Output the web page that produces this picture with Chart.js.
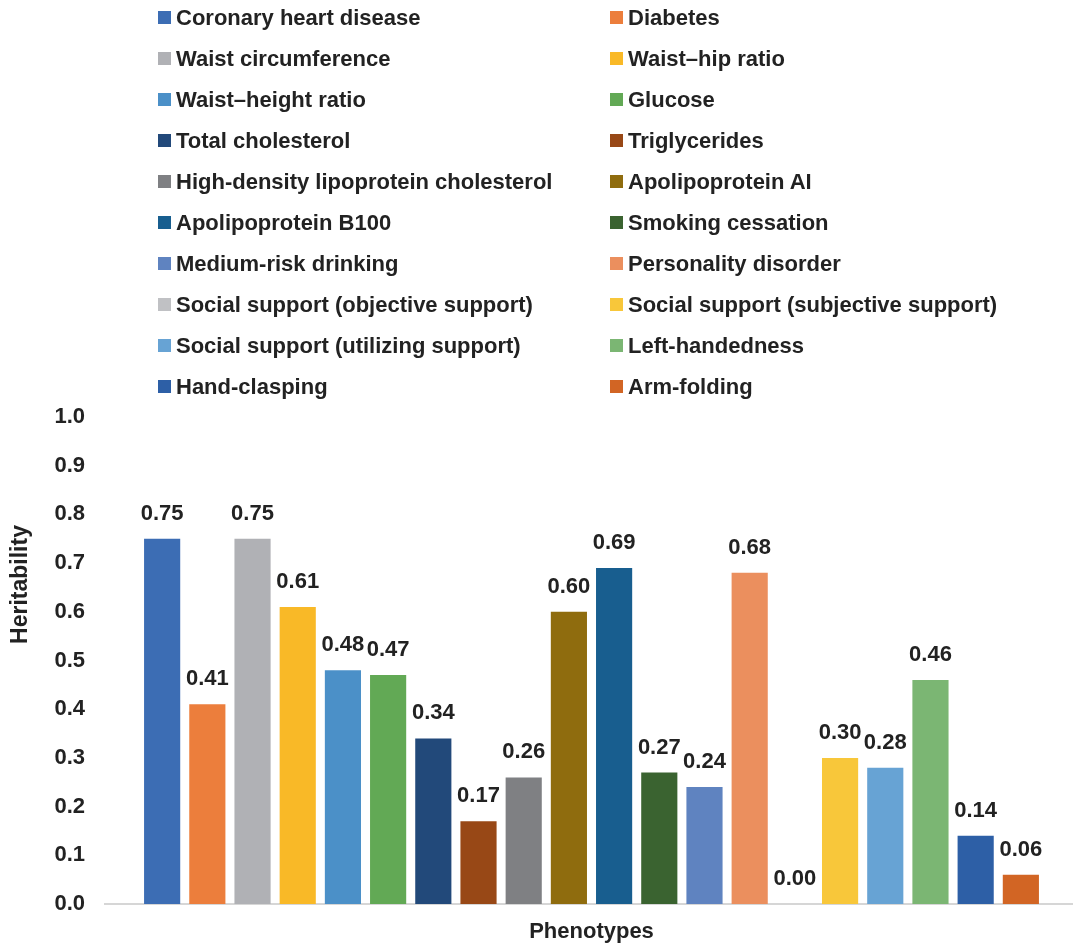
<!DOCTYPE html>
<html>
<head>
<meta charset="utf-8">
<title>Heritability of phenotypes</title>
<script src="https://cdn.jsdelivr.net/npm/chart.js@4/dist/chart.umd.min.js"></script>
<style>
  html, body { margin: 0; padding: 0; background: #ffffff; }
  #wrap { position: relative; width: 1073px; height: 947px; overflow: hidden; }
  #chart { position: absolute; left: 0; top: 0; }
  #legend { position: absolute; left: 0; top: 0; width: 1073px; height: 400px; }
  .item {
    position: absolute; display: flex; align-items: center; height: 41px;
    font: bold 22px "Liberation Sans", Arial, Helvetica, sans-serif; color: #222222;
    white-space: nowrap;
  }
  .item .sw { width: 13px; height: 13px; margin-right: 5px; flex: none; }
</style>
</head>
<body>
<div id="wrap">
  <canvas id="chart" width="1073" height="947"></canvas>
  <div id="legend"></div>
</div>
<script>
// Phenotypes and their estimated heritability
const phenotypes = [
  'Coronary heart disease', 'Diabetes',
  'Waist circumference', 'Waist\u2013hip ratio',
  'Waist\u2013height ratio', 'Glucose',
  'Total cholesterol', 'Triglycerides',
  'High-density lipoprotein cholesterol', 'Apolipoprotein AI',
  'Apolipoprotein B100', 'Smoking cessation',
  'Medium-risk drinking', 'Personality disorder',
  'Social support (objective support)', 'Social support (subjective support)',
  'Social support (utilizing support)', 'Left-handedness',
  'Hand-clasping', 'Arm-folding'
];
const heritability = [
  0.75, 0.41, 0.75, 0.61, 0.48, 0.47, 0.34, 0.17, 0.26, 0.60,
  0.69, 0.27, 0.24, 0.68, 0.00, 0.30, 0.28, 0.46, 0.14, 0.06
];
const barColors = [
  '#3C6DB4', '#EC7E3C', '#B0B1B5', '#F9B927', '#4B90C8',
  '#62A955', '#22497A', '#984816', '#7F8083', '#8F6C0E',
  '#185E8F', '#3A6330', '#5F83C0', '#EB8F5E', '#C0C1C4',
  '#F8C73A', '#67A3D4', '#7BB673', '#2D5FA6', '#D26524'
];
const categories = [''];
const yTicks = [0, 0.1, 0.2, 0.3, 0.4, 0.5, 0.6, 0.7, 0.8, 0.9, 1.0];

const FONT = '"Liberation Sans", Arial, Helvetica, sans-serif';
const INK = '#222222';

const datasets = phenotypes.map((name, i) => ({
  label: name,
  data: [heritability[i]],
  backgroundColor: barColors[i],
  borderWidth: 0,
  categoryPercentage: 0.929,
  barPercentage: 0.8
}));

// The plot area runs a little past the right edge of the canvas
const widenPlot = {
  id: 'widenPlot',
  afterLayout(chart) {
    const extra = 5;
    const x = chart.scales.x;
    x.right += extra;
    x.width += extra;
    chart.chartArea.right += extra;
    chart.chartArea.width += extra;
    x.configure();
  }
};

// Value written above every bar
const valueLabels = {
  id: 'valueLabels',
  afterDatasetsDraw(chart) {
    const ctx = chart.ctx;
    ctx.save();
    ctx.font = 'bold 22px ' + FONT;
    ctx.fillStyle = INK;
    ctx.textAlign = 'center';
    ctx.textBaseline = 'middle';
    chart.data.datasets.forEach((ds, i) => {
      const meta = chart.getDatasetMeta(i);
      meta.data.forEach((bar, j) => {
        ctx.fillText(ds.data[j].toFixed(2), bar.x, bar.y - 25);
      });
    });
    ctx.restore();
  }
};

// Rotated value-axis title
const yTitle = {
  id: 'yTitle',
  afterDraw(chart) {
    const ctx = chart.ctx;
    const area = chart.chartArea;
    ctx.save();
    ctx.font = 'bold 23px ' + FONT;
    ctx.fillStyle = INK;
    ctx.textAlign = 'center';
    ctx.textBaseline = 'middle';
    ctx.translate(21, (area.top + area.bottom) / 2 - 76);
    ctx.rotate(-Math.PI / 2);
    ctx.fillText('Heritability', 0, 0);
    ctx.restore();
  }
};

const chart = new Chart(document.getElementById('chart'), {
  type: 'bar',
  data: { labels: categories, datasets },
  options: {
    responsive: false,
    animation: false,
    devicePixelRatio: 1,
    layout: { padding: { top: 417, right: 0, bottom: 0, left: 0 } },
    plugins: {
      legend: { display: false },
      tooltip: { enabled: false },
      title: { display: false }
    },
    scales: {
      x: {
        grid: { display: false, drawTicks: false },
        border: { display: true, color: '#D6D6D6', width: 2 },
        ticks: { display: false },
        title: {
          display: true, text: 'Phenotypes', color: INK,
          font: { family: FONT, size: 22, weight: 'bold' },
          padding: { top: 0, bottom: 2 }
        },
        afterFit(scale) { scale.height = 43; }
      },
      y: {
        min: 0, max: 1,
        grid: { display: false, drawTicks: false },
        border: { display: false },
        afterBuildTicks(scale) { scale.ticks = yTicks.map(v => ({ value: v })); },
        ticks: {
          color: INK, padding: 20,
          font: { family: FONT, size: 22, weight: 'bold' },
          callback: v => Number(v).toFixed(1)
        },
        afterFit(scale) { scale.width = 105; }
      }
    }
  },
  plugins: [widenPlot, valueLabels, yTitle]
});

// Two-column legend built from the chart's datasets
const legend = document.getElementById('legend');
chart.data.datasets.forEach((ds, i) => {
  const col = i % 2, row = Math.floor(i / 2);
  const el = document.createElement('div');
  el.className = 'item';
  el.style.left = (col === 0 ? 158 : 610) + 'px';
  el.style.top = (row * 41 - 3) + 'px';
  const sw = document.createElement('span');
  sw.className = 'sw';
  sw.style.background = ds.backgroundColor;
  const tx = document.createElement('span');
  tx.textContent = ds.label;
  el.appendChild(sw);
  el.appendChild(tx);
  legend.appendChild(el);
});
</script>
</body>
</html>
